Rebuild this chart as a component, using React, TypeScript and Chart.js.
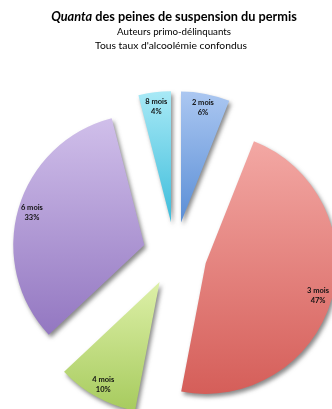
import React, { useEffect, useRef } from "react";
import { Chart, registerables } from "chart.js";

Chart.register(...registerables);

// ---- data ----
const categories = ["2 mois", "3 mois", "4 mois", "6 mois", "8 mois"];
const percentages = [6, 47, 10, 33, 4];
const titleItalic = "Quanta";
const titleRest = " des peines de suspension du permis";
const subtitles = ["Auteurs primo-délinquants", "Tous taux d'alcoolémie confondus"];

// ---- styles ----
const topColors = ["#abc7f1", "#f3a8a4", "#ddf0a8", "#d0bfea", "#a8e9f6"];
const bottomColors = ["#5a8ed6", "#d55e59", "#a7cb5e", "#9377c1", "#3dbddb"];
const RADIUS = 131;
const EXPLODE = 32;
const FONT = "Lato, 'Open Sans', sans-serif";

function sectorGeometry(chart: any, index: number) {
  const area = chart.chartArea;
  const cx = (area.left + area.right) / 2;
  const cy = (area.top + area.bottom) / 2;
  const total = percentages.reduce((a, b) => a + b, 0);
  let cum = 0;
  for (let i = 0; i < index; i++) cum += percentages[i];
  const start = -Math.PI / 2 + (2 * Math.PI * cum) / total;
  const end = start + (2 * Math.PI * percentages[index]) / total;
  const mid = (start + end) / 2;
  const ox = cx + Math.cos(mid) * EXPLODE;
  const oy = cy + Math.sin(mid) * EXPLODE;
  return { start, end, mid, ox, oy };
}

function gradientFor(c: any) {
  const i = c.dataIndex;
  if (i === undefined || !c.chart.chartArea) return topColors[0];
  const { start, end, ox, oy } = sectorGeometry(c.chart, i);
  let minY = oy;
  let maxY = oy;
  for (let t = 0; t <= 40; t++) {
    const a = start + ((end - start) * t) / 40;
    const y = oy + Math.sin(a) * RADIUS;
    minY = Math.min(minY, y);
    maxY = Math.max(maxY, y);
  }
  const g = c.chart.ctx.createLinearGradient(0, minY, 0, maxY);
  g.addColorStop(0, topColors[i]);
  g.addColorStop(1, bottomColors[i]);
  return g;
}

const explodePlugin = {
  id: "explode",
  afterDatasetsUpdate(chart: any) {
    const meta = chart.getDatasetMeta(0);
    meta.data.forEach((arc: any) => {
      const mid = (arc.startAngle + arc.endAngle) / 2;
      arc.x += Math.cos(mid) * EXPLODE;
      arc.y += Math.sin(mid) * EXPLODE;
    });
  },
  beforeDatasetsDraw(chart: any) {
    const ctx = chart.ctx;
    ctx.save();
    ctx.shadowColor = "rgba(40,40,40,0.55)";
    ctx.shadowBlur = 4;
    ctx.shadowOffsetX = 2;
    ctx.shadowOffsetY = 3;
  },
  afterDatasetsDraw(chart: any) {
    const ctx = chart.ctx;
    ctx.restore();
    const meta = chart.getDatasetMeta(0);
    ctx.save();
    ctx.fillStyle = "#111";
    ctx.font = `bold 7.5px ${FONT}`;
    ctx.textAlign = "center";
    ctx.textBaseline = "middle";
    meta.data.forEach((arc: any, i: number) => {
      const mid = (arc.startAngle + arc.endAngle) / 2;
      const lx = arc.x + Math.cos(mid) * 117;
      const ly = arc.y + Math.sin(mid) * 117;
      ctx.fillText(categories[i], lx, ly - 5);
      ctx.fillText(`${percentages[i]}%`, lx, ly + 5);
    });
    ctx.restore();
  },
  afterDraw(chart: any) {
    const ctx = chart.ctx;
    ctx.save();
    ctx.fillStyle = "#000";
    ctx.textBaseline = "middle";
    ctx.textAlign = "left";
    const cxT = 174;
    // main title, fit to width
    let size = 13;
    ctx.font = `italic bold ${size}px ${FONT}`;
    let w1 = ctx.measureText(titleItalic).width;
    ctx.font = `bold ${size}px ${FONT}`;
    let w2 = ctx.measureText(titleRest).width;
    const scale = 246 / (w1 + w2);
    size = size * scale;
    ctx.font = `italic bold ${size}px ${FONT}`;
    w1 = ctx.measureText(titleItalic).width;
    ctx.font = `bold ${size}px ${FONT}`;
    w2 = ctx.measureText(titleRest).width;
    const x0 = cxT - (w1 + w2) / 2;
    ctx.font = `italic bold ${size}px ${FONT}`;
    ctx.fillText(titleItalic, x0, 17);
    ctx.font = `bold ${size}px ${FONT}`;
    ctx.fillText(titleRest, x0 + w1, 17);
    // subtitles
    ctx.textAlign = "center";
    const subW = [114, 152];
    const subY = [32, 46];
    subtitles.forEach((s, k) => {
      ctx.font = `10px ${FONT}`;
      const w = ctx.measureText(s).width;
      const fs = 10 * (subW[k] / w);
      ctx.font = `${fs}px ${FONT}`;
      ctx.fillText(s, k === 0 ? 174 : 171, subY[k]);
    });
    ctx.restore();
  },
};

export default function App() {
  const ref = useRef<HTMLCanvasElement | null>(null);
  useEffect(() => {
    document.body.style.margin = "0";
    const canvas = ref.current;
    if (!canvas) return;
    const chart = new Chart(canvas, {
      type: "pie",
      data: {
        labels: categories,
        datasets: [
          {
            data: percentages,
            backgroundColor: gradientFor as any,
            borderWidth: 0,
            radius: RADIUS,
            clip: false,
          } as any,
        ],
      },
      options: {
        responsive: false,
        animation: false,
        events: [],
        layout: { padding: { left: 18, top: 99, right: 0, bottom: 0 } },
        plugins: {
          legend: { display: false },
          title: { display: false },
          tooltip: { enabled: false },
        },
      },
      plugins: [explodePlugin],
    });
    return () => chart.destroy();
  }, []);
  return (
    <div style={{ width: 332, height: 409, background: "#fff" }}>
      <canvas ref={ref} width={332} height={409} style={{ display: "block" }} />
    </div>
  );
}
